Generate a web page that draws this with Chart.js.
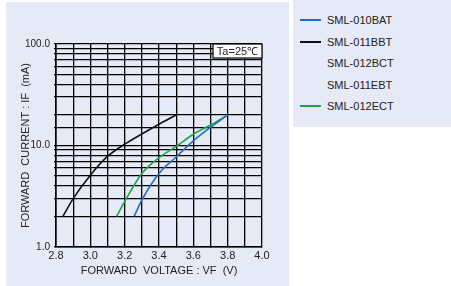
<!DOCTYPE html>
<html>
<head>
<meta charset="utf-8">
<script src="https://cdn.jsdelivr.net/npm/chart.js@4/dist/chart.umd.min.js"></script>
<style>
    body { margin: 0; width: 451px; height: 286px; background: #fff; overflow: hidden; font-family: "Liberation Sans", Arial, sans-serif; }
    #panel { position: absolute; left: 6px; top: 2px; width: 283px; height: 284px; background: #e5eaf6; }
    #chartBox { position: absolute; left: -6px; top: -2px; width: 289px; height: 286px; }
    #legend { position: absolute; left: 293px; top: 0; width: 158px; height: 127px; background: #e5eaf6; }
    .item { position: absolute; left: 7px; height: 14px; font-size: 11px; color: #222; line-height: 14px; }
    .item span.ln { display: inline-block; width: 21px; height: 0; border-top: 2px solid; vertical-align: middle; margin-right: 6px; margin-top: -2px; }
</style>
</head>
<body>
<div id="panel"><div id="chartBox"><canvas id="ivChart"></canvas></div></div>
<div id="legend"></div>
<script>
const seriesNames = ['SML-010BAT', 'SML-011BBT', 'SML-012BCT', 'SML-011EBT', 'SML-012ECT'];
const seriesColors = ['#1f6ec4', '#111111', 'transparent', 'transparent', '#1ea34a'];

const blueV = [3.255, 3.3, 3.4, 3.5, 3.6, 3.7, 3.8];
const blueI = [2, 2.9, 5.3, 7.7, 11.1, 15.1, 20];

const blackV = [2.84, 2.9, 3.0, 3.1, 3.2, 3.3, 3.4, 3.5];
const blackI = [2, 3, 5.1, 7.8, 10.3, 13.0, 16.2, 20];

const greenV = [3.153, 3.2, 3.3, 3.4, 3.5, 3.6, 3.7, 3.8];
const greenI = [2, 2.8, 5.3, 7.6, 9.8, 12.9, 15.9, 20];

const xMin = 2.8, xMax = 4.0;
const yMin = 1, yMax = 100;

function toPoints(xs, ys) {
    return xs.map((x, i) => ({ x: x, y: ys[i] }));
}

const seriesData = [toPoints(blueV, blueI), toPoints(blackV, blackI), [], [], toPoints(greenV, greenI)];

// legend panel
const legend = document.getElementById('legend');
seriesNames.forEach((name, i) => {
    const div = document.createElement('div');
    div.className = 'item';
    div.style.top = (13 + i * 21.5) + 'px';
    div.innerHTML = '<span class="ln" style="border-color:' + seriesColors[i] + '"></span>' + name;
    legend.appendChild(div);
});

const tempBox = {
    id: 'tempBox',
    afterDatasetsDraw(chart) {
        const { ctx, chartArea } = chart;
        const w = 49, h = 14;
        ctx.save();
        ctx.fillStyle = '#fff';
        ctx.fillRect(chartArea.right - w, chartArea.top, w, h);
        ctx.strokeStyle = '#000';
        ctx.lineWidth = 1.2;
        ctx.strokeRect(chartArea.right - w, chartArea.top, w, h);
        ctx.fillStyle = '#222';
        ctx.font = '11px "Liberation Sans", Arial, sans-serif';
        ctx.textAlign = 'center';
        ctx.textBaseline = 'middle';
        ctx.fillText('Ta=25\u2103', chartArea.right - w / 2, chartArea.top + h / 2 + 1);
        ctx.restore();
    }
};

new Chart(document.getElementById('ivChart'), {
    type: 'line',
    data: {
        datasets: seriesNames.map((name, i) => ({
            label: name,
            data: seriesData[i],
            borderColor: seriesColors[i],
            borderWidth: 1.6,
            pointRadius: 0,
            fill: false,
            cubicInterpolationMode: 'monotone'
        }))
    },
    options: {
        responsive: true,
        maintainAspectRatio: false,
        animation: false,
        layout: { padding: { top: 44, right: 27, left: 19, bottom: 0 } },
        plugins: { legend: { display: false }, tooltip: { enabled: false } },
        scales: {
            x: {
                type: 'linear',
                min: xMin,
                max: xMax,
                afterFit: s => { s.height = 39; },
                ticks: {
                    stepSize: 0.1,
                    autoSkip: false,
                    maxRotation: 0,
                    padding: 2,
                    color: '#222',
                    font: { family: '"Liberation Sans", Arial, sans-serif', size: 11 },
                    callback: v => (Math.round(v * 10) % 2 === 0 ? v.toFixed(1) : '')
                },
                grid: { color: '#000', lineWidth: 1.3, tickLength: 0 },
                border: { color: '#000', width: 1.6 },
                title: {
                    display: true,
                    text: 'FORWARD  VOLTAGE : VF  (V)',
                    color: '#222',
                    padding: { top: 2, bottom: 8 },
                    font: { family: '"Liberation Sans", Arial, sans-serif', size: 11 }
                }
            },
            y: {
                type: 'logarithmic',
                min: yMin,
                max: yMax,
                afterFit: s => { s.width = 37; },
                ticks: {
                    autoSkip: false,
                    padding: 4,
                    color: '#222',
                    font: { family: '"Liberation Sans", Arial, sans-serif', size: 10 },
                    callback: v => (Number.isInteger(Math.log10(v)) ? v.toFixed(1) : '')
                },
                grid: { color: '#000', lineWidth: 1.3, tickLength: 2 },
                border: { color: '#000', width: 1.6 },
                title: {
                    display: true,
                    text: 'FORWARD  CURRENT : IF  (mA)',
                    color: '#222',
                    padding: { top: 0, bottom: 0 },
                    font: { family: '"Liberation Sans", Arial, sans-serif', size: 11 }
                }
            }
        }
    },
    plugins: [tempBox]
});
</script>
</body>
</html>
